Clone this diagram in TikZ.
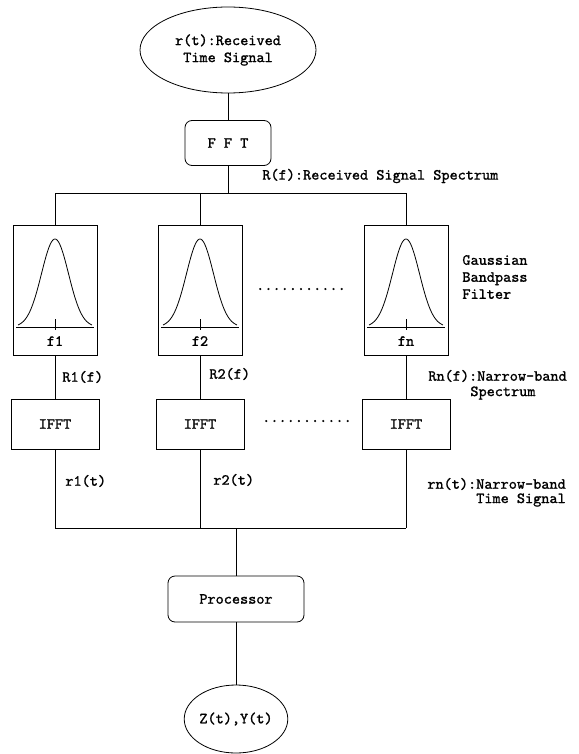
\documentclass[tikz,border=0pt]{standalone}
\usepackage{fontspec}
\newfontfamily\refmono{lmmono10-regular}[Extension=.otf,FakeBold=1.2]
\usetikzlibrary{shapes.geometric}

\begin{document}
\begin{tikzpicture}[x=1pt,y=-1pt,line width=0.8pt,
  every node/.style={font=\refmono\fontsize{15.5}{17}\selectfont},
  blk/.style={draw,minimum width=88pt,minimum height=50pt,inner sep=0pt},
  rblk/.style={blk,rounded corners=7pt},
  filt/.style={draw,minimum width=84pt,minimum height=130pt,inner sep=0pt},
  oval/.style={draw,ellipse,inner sep=0pt,align=center},
  lbl/.style={anchor=west,inner sep=0pt,align=left}]
\useasboundingbox (0,0) rectangle (578,754);
\node[oval,minimum width=176pt,minimum height=86pt] (rt) at (228,50) {r(t):Received\\Time Signal};
\node[rblk,minimum width=86pt,minimum height=45pt] (fft) at (228,143) {F F T};
\foreach \c/\fl/\i in {55/f1/1,200/f2/2,406/fn/3} {
  \node[filt] (filt\i) at (\c,290) {};
  \draw (\c-39,327) -- (\c+39,327);
  \draw (\c,319) -- (\c,330);
  \draw plot[domain=-37:37,samples=61,smooth] ({\c+\x},{327-88*exp(-0.5*(\x/13.5)^2)});
  \node at (\c,341) {\fl};
  \node[blk] (ifft\i) at (\c,424) {IFFT};
}
\node[rblk,minimum width=136pt,minimum height=46pt] (proc) at (236,599) {Processor};
\node[oval,minimum width=94pt,minimum height=68pt] (out) at (236,719) {Z(t),Y(t)};
\coordinate (bt) at (228,193);
\coordinate (bb) at (236,528);
\draw (rt) -- (fft);
\draw (fft) -- (bt);
\draw (filt1.north |- bt) -- (filt3.north |- bt);
\foreach \i in {1,2,3} {
  \draw (filt\i.north |- bt) -- (filt\i.north);
  \draw (filt\i) -- (ifft\i);
  \draw (ifft\i) -- (ifft\i.south |- bb);
}
\draw (ifft1.south |- bb) -- (ifft3.south |- bb);
\draw (bb) -- (proc);
\draw (proc) -- (out);
\node[anchor=base] (dotsf) at (301,290) {...........};
\node[anchor=base] (dotsi) at (307,422) {...........};
\node[lbl] (rflbl) at (262,176) {R(f):Received Signal Spectrum};
\node[lbl] (gbf) at (462,277) {Gaussian\\Bandpass\\Filter};
\node[lbl] (r1f) at (62,377) {R1(f)};
\node[lbl] (r2f) at (209,374) {R2(f)};
\node[lbl] (rnf) at (428,376) {Rn(f):Narrow-band};
\node[lbl] (rnfb) at (470,393) {Spectrum};
\node[lbl] (r1t) at (65,481) {r1(t)};
\node[lbl] (r2t) at (213,480) {r2(t)};
\node[lbl] (rnt) at (427,484) {rn(t):Narrow-band};
\node[anchor=east,inner sep=0pt] (rntb) at ([yshift=-16pt]rnt.east) {Time Signal};
\end{tikzpicture}
\end{document}
